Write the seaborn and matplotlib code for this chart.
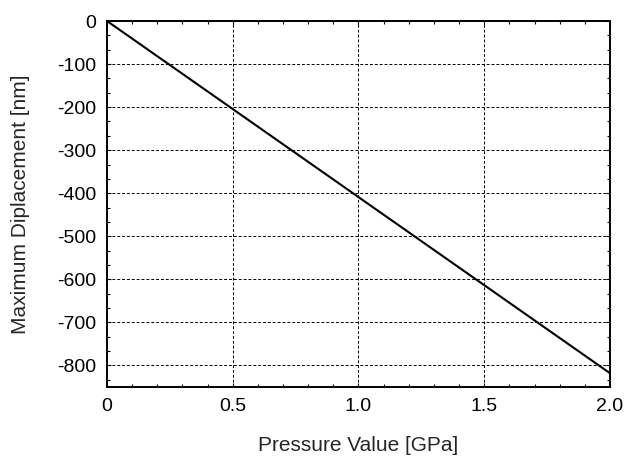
import numpy as np
import pandas as pd
import matplotlib
matplotlib.use("Agg")
import matplotlib.pyplot as plt
import seaborn as sns
from matplotlib.ticker import MultipleLocator

pressure = [0.0, 0.5, 1.0, 1.5, 2.0]
displacement = [0.0, -204.5, -409.0, -613.5, -818.0]

df = pd.DataFrame({"Pressure": pressure, "Displacement": displacement})

sns.set_style("ticks")
plt.rcParams['font.family'] = ['Liberation Sans', 'DejaVu Sans']
plt.rcParams['axes.unicode_minus'] = False

fig = plt.figure(figsize=(6.26, 4.57), dpi=100)
ax = fig.add_axes([107 / 626, 1 - 387 / 457, 503 / 626, 366 / 457])

sns.lineplot(data=df, x="Pressure", y="Displacement", ax=ax, color="black", linewidth=1.5)

ax.set_xlim(0, 2.0)
ax.set_ylim(-850, 0)
ax.set_xticks([0, 0.5, 1.0, 1.5, 2.0])
ax.set_xticklabels(["0", "0.5", "1.0", "1.5", "2.0"])
ax.set_yticks(np.arange(-800, 1, 100))
ax.xaxis.set_minor_locator(MultipleLocator(0.1))
ax.yaxis.set_minor_locator(MultipleLocator(100 / 3))
ax.tick_params(which="both", direction="in", top=True, right=True, labelsize=14, colors="black")
ax.tick_params(which="major", length=3, width=0.8, pad=8)
ax.tick_params(which="minor", length=2.5, width=0.8)

ax.grid(True, which="major", color="black", linestyle=(0, (3, 2)), linewidth=0.7)
for s in ax.spines.values():
    s.set_linewidth(1.4)
    s.set_color("black")

ax.set_xlabel("Pressure Value [GPa]", fontsize=15, labelpad=15)
ax.set_ylabel("Maximum Diplacement [nm]", fontsize=15, labelpad=19)

fig.savefig("out.png", dpi=100)
